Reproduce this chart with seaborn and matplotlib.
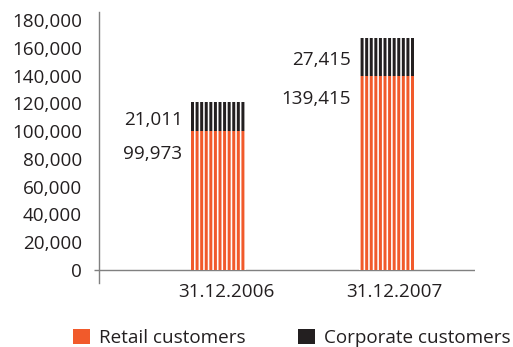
import matplotlib
matplotlib.use("Agg")
import matplotlib.pyplot as plt
from matplotlib.patches import Patch
from matplotlib.ticker import FuncFormatter, MultipleLocator
from matplotlib.transforms import ScaledTranslation
import seaborn as sns
import pandas as pd

# Customer numbers at year end
dates = ["31.12.2006", "31.12.2007"]
retail = [99973, 139415]
corporate = [21011, 27415]
series_names = ["Retail customers", "Corporate customers"]
y_ticks_max = 180000
y_tick_step = 20000

ORANGE = "#f15a2b"
BLACK = "#231f20"
TEXT = "#231f20"
AXIS = "#808080"

DPI = 110
W_PX, H_PX = 513, 347


def pt(px):
    """Convert a pixel length into points at the output resolution."""
    return px * 72 / DPI


FS = pt(18.9)

sns.set_theme(style="white")
plt.rcParams["font.family"] = ["Open Sans", "DejaVu Sans"]
plt.rcParams["hatch.linewidth"] = pt(1.6)

df = pd.DataFrame({"date": dates, "retail": retail, "corporate": corporate})
df["total"] = df["retail"] + df["corporate"]

fig = plt.figure(figsize=(W_PX / DPI, H_PX / DPI), dpi=DPI)
ax = fig.add_axes([99 / W_PX, 64 / H_PX, 376 / W_PX, 271 / H_PX])

bar_w = 0.327
sns.barplot(data=df, x="date", y="total", color=BLACK, saturation=1,
            width=bar_w, ax=ax)
sns.barplot(data=df, x="date", y="retail", color=ORANGE, saturation=1,
            width=bar_w, ax=ax)

# vertical white stripes through every bar
for p in ax.patches:
    p.set_hatch("||||")
    p.set_edgecolor("white")
    p.set_linewidth(0)

ax.set_xlim(-0.714, 1.524)
ax.set_ylim(-9360, 185760)
ax.set_xlabel("")
ax.set_ylabel("")

for s in ["top", "right", "bottom"]:
    ax.spines[s].set_visible(False)
ax.spines["left"].set_color(AXIS)
ax.spines["left"].set_linewidth(pt(1.4))
ax.axhline(0, color=AXIS, lw=pt(1.4), zorder=0.5)

ax.yaxis.set_major_locator(MultipleLocator(y_tick_step))
ax.yaxis.set_major_formatter(FuncFormatter(lambda v, _: f"{int(v):,}"))
ax.set_yticks(range(0, y_ticks_max + 1, y_tick_step))
ax.tick_params(axis="y", left=True, length=pt(5), width=pt(1.4), color=AXIS,
               pad=pt(12), labelsize=FS, labelcolor=TEXT)
for i, t in enumerate(ax.yaxis.get_major_ticks()):
    t.tick1line.set_visible(i == 0)

ax.tick_params(axis="x", bottom=False, length=0, pad=0, labelsize=FS,
               labelcolor=TEXT)
shift = ScaledTranslation(7 / DPI, 0, fig.dpi_scale_trans)
for lab in ax.get_xticklabels():
    lab.set_transform(lab.get_transform() + shift)

# value labels to the left of each bar
for i, (r, c) in enumerate(zip(retail, corporate)):
    xl = i - bar_w / 2
    ax.annotate(f"{c:,}", xy=(xl, r + c / 2), xytext=(-pt(9), -pt(3)),
                textcoords="offset points", ha="right", va="center",
                fontsize=FS, color=TEXT)
    ax.annotate(f"{r:,}", xy=(xl, r), xytext=(-pt(9), -pt(23)),
                textcoords="offset points", ha="right", va="center",
                fontsize=FS, color=TEXT)

handles = [Patch(facecolor=ORANGE, edgecolor="none"),
           Patch(facecolor=BLACK, edgecolor="none")]
fig.legend(handles, series_names, loc="lower left",
           bbox_to_anchor=(73 / W_PX, 0.0), ncol=2, frameon=False,
           handlelength=0.9, handleheight=0.9, handletextpad=0.45,
           columnspacing=2.8, borderpad=0, borderaxespad=0,
           fontsize=FS, labelcolor=TEXT)

fig.savefig("out.png", dpi=DPI)
